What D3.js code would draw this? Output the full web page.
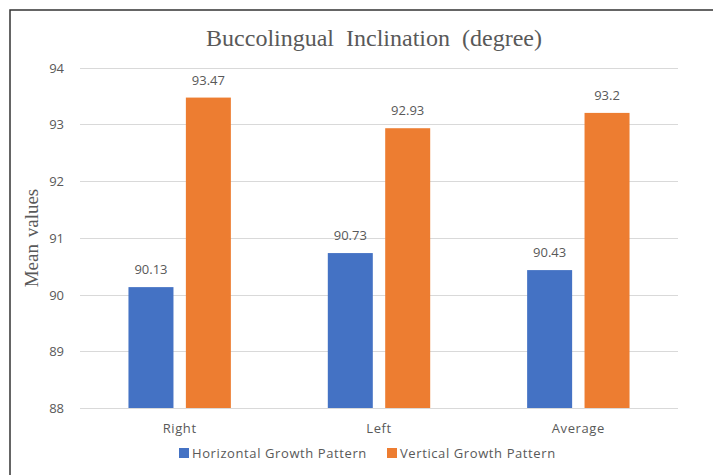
<!DOCTYPE html>
<html>
<head>
<meta charset="utf-8">
<script src="https://cdn.jsdelivr.net/npm/d3@7"></script>
<style>
body{margin:0;background:#fff;}
text{fill:#595959;}
</style>
</head>
<body>
<div id="chart"></div>
<script>
var categories=["Right","Left","Average"];
var seriesNames=["Horizontal Growth Pattern","Vertical Growth Pattern"];
var legendLabels=["Horizontal Growth Pattern","Vertical Growth Pattern"];
var horizontalValues=[90.13,90.73,90.43];
var verticalValues=[93.47,92.93,93.2];
var valueLabels=[["90.13","90.73","90.43"],["93.47","92.93","93.2"]];
var yTicks=[88,89,90,91,92,93,94];
var colors=["#4472c4","#ed7d31"];

var width=713,height=475;

var svg=d3.select("#chart").append("svg")
	.attr("width",width).attr("height",height);

// frame
svg.append("rect").attr("x",10).attr("y",10)
	.attr("width",width+10).attr("height",height+10)
	.attr("fill","none").attr("stroke","#333").attr("stroke-width",1.5);

var y=d3.scaleLinear().domain([88,94]).range([408,67.5]);
var x0=d3.scaleBand().domain(categories).range([80,678]).padding(0);
var half=51.2;
var x1=d3.scaleBand().domain(seriesNames)
	.range([x0.bandwidth()/2-half,x0.bandwidth()/2+half]).paddingInner(0.216);

//grid
svg.append("g").selectAll("line").data(yTicks).enter().append("line")
	.attr("x1",80).attr("x2",678)
	.attr("y1",function(d){return Math.round(y(d))+0.5;})
	.attr("y2",function(d){return Math.round(y(d))+0.5;})
	.attr("stroke","#d9d9d9").attr("stroke-width",1);

svg.append("g").selectAll("text").data(yTicks).enter().append("text")
	.attr("x",64).attr("y",function(d){return y(d)+5;})
	.attr("text-anchor","end")
	.style("font-family","'Open Sans',sans-serif").style("font-size","13px")
	.text(function(d){return d;});

var data=[horizontalValues,verticalValues];
data.forEach(function(vals,s){
	var g=svg.append("g");
	g.selectAll("rect").data(vals).enter().append("rect")
		.attr("x",function(d,i){return x0(categories[i])+x1(seriesNames[s]);})
		.attr("y",function(d){return y(d);})
		.attr("width",x1.bandwidth())
		.attr("height",function(d){return y(88)-y(d);})
		.attr("fill",colors[s]);
	g.selectAll("text").data(vals).enter().append("text")
		.attr("x",function(d,i){return x0(categories[i])+x1(seriesNames[s])+x1.bandwidth()/2;})
		.attr("y",function(d){return y(d)-13;})
		.attr("text-anchor","middle")
		.style("font-family","'Open Sans',sans-serif").style("font-size","13px")
		.text(function(d,i){return valueLabels[s][i];});
});

//category labels
svg.append("g").selectAll("text").data(categories).enter().append("text")
	.attr("x",function(d){return x0(d)+x0.bandwidth()/2;})
	.attr("y",433)
	.attr("text-anchor","middle")
	.style("font-family","'Open Sans',sans-serif").style("font-size","13px")
	.style("letter-spacing","0.6px")
	.text(function(d){return d;});

//title
svg.append("text").attr("x",374).attr("y",46)
	.attr("text-anchor","middle")
	.style("font-family","'Liberation Serif',serif").style("font-size","24px")
	.style("word-spacing","6px")
	.text("Buccolingual Inclination (degree)");

//y label
svg.append("text")
	.attr("transform","translate(38,238) rotate(-90)")
	.attr("text-anchor","middle")
	.style("font-family","'Liberation Serif',serif").style("font-size","19px")
	.style("word-spacing","2px")
	.text("Mean values");

//legend
var legendX=[179,387];
legendLabels.forEach(function(l,i){
	svg.append("rect").attr("x",legendX[i]).attr("y",448).attr("width",10).attr("height",10)
		.attr("fill",colors[i]);
	svg.append("text").attr("x",legendX[i]+13).attr("y",458)
		.style("font-family","'Open Sans',sans-serif").style("font-size","13px")
		.style("letter-spacing","0.6px")
		.text(l);
});
</script>
</body>
</html>
